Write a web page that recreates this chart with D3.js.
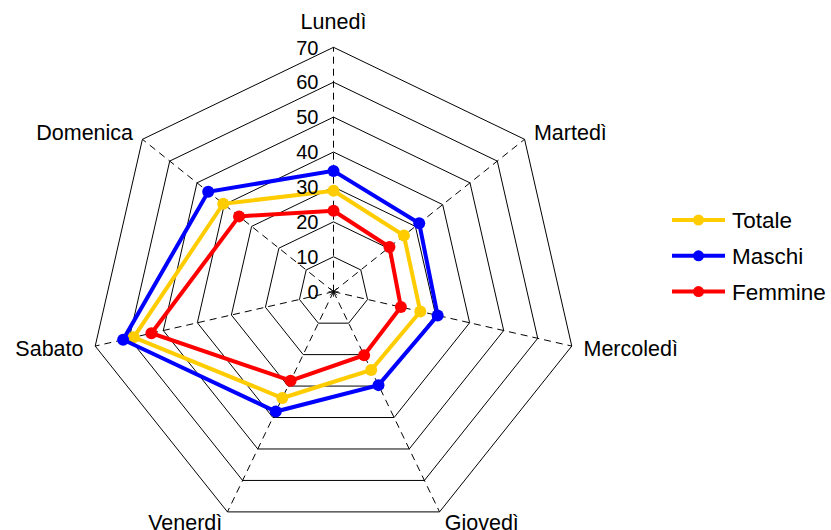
<!DOCTYPE html>
<html>
<head>
<meta charset="utf-8">
<script src="https://cdn.jsdelivr.net/npm/d3@7"></script>
<style>
  body { margin: 0; background: #fff; }
  text { font-family: "Liberation Sans", Arial, sans-serif; fill: #000; }
</style>
</head>
<body>
<script>
const days = ["Lunedì", "Martedì", "Mercoledì", "Giovedì", "Venerdì", "Sabato", "Domenica"];
const totale = [28.9, 25.8, 25.5, 24.9, 33.8, 58.7, 40.4];
const maschi = [34.6, 31.4, 30.6, 29.7, 38.1, 61.8, 45.9];
const femmine = [23.2, 20.5, 19.8, 20.2, 28.3, 53.5, 34.6];
const ticks = [0, 10, 20, 30, 40, 50, 60, 70];

const seriesNames = ["Totale", "Maschi", "Femmine"];
const seriesColors = ["#ffcc00", "#0000ff", "#ff0000"];
const seriesData = [totale, maschi, femmine];

const width = 831;
const height = 530;
const cx = 333.5;
const cy = 291.7;
const R = 244.4;

const svg = d3.select("body").append("svg")
  .attr("width", width)
  .attr("height", height);

const r = d3.scaleLinear().domain([0, 70]).range([0, R]);
// clockwise from top
const angle = d3.scalePoint().domain(d3.range(days.length)).range([0, 2 * Math.PI * (days.length - 1) / days.length]);

function pt(i, v) {
  const a = angle(i);
  return [cx + r(v) * Math.sin(a), cy - r(v) * Math.cos(a)];
}

const g = svg.append("g");

// rings
g.selectAll("path.ring")
  .data(ticks.filter(t => t > 0))
  .join("path")
  .attr("class", "ring")
  .attr("d", t => d3.line()(days.map((d, i) => pt(i, t))) + "Z")
  .attr("fill", "none")
  .attr("stroke", "#000")
  .attr("stroke-width", 1);

// spokes
g.selectAll("line.spoke")
  .data(days)
  .join("line")
  .attr("class", "spoke")
  .attr("x1", cx).attr("y1", cy)
  .attr("x2", (d, i) => pt(i, 70)[0])
  .attr("y2", (d, i) => pt(i, 70)[1])
  .attr("stroke", "#000")
  .attr("stroke-width", 1)
  .attr("stroke-dasharray", "7,5");

// centre star
[0, 45, 90, 135].forEach(a => {
  const dx = 5 * Math.cos(a * Math.PI / 180), dy = 5 * Math.sin(a * Math.PI / 180);
  g.append("line")
    .attr("x1", cx - dx).attr("y1", cy - dy)
    .attr("x2", cx + dx).attr("y2", cy + dy)
    .attr("stroke", "#000").attr("stroke-width", 0.8);
});

// series
seriesData.forEach((vals, k) => {
  const pts = vals.map((v, i) => pt(i, v));
  g.append("path")
    .attr("d", d3.line()(pts) + "Z")
    .attr("fill", "none")
    .attr("stroke", seriesColors[k])
    .attr("stroke-width", 4)
    .attr("stroke-linejoin", "miter");
  g.selectAll(null)
    .data(pts)
    .join("circle")
    .attr("cx", d => d[0])
    .attr("cy", d => d[1])
    .attr("r", 6)
    .attr("fill", seriesColors[k]);
});

// tick labels
g.selectAll("text.tick")
  .data(ticks)
  .join("text")
  .attr("class", "tick")
  .attr("x", cx - 15)
  .attr("y", t => cy - r(t))
  .attr("dy", "0.36em")
  .attr("text-anchor", "end")
  .attr("font-size", 20)
  .text(t => t);

// day labels
g.selectAll("text.day")
  .data(days)
  .join("text")
  .attr("class", "day")
  .each(function (d, i) {
    const a = angle(i);
    const s = Math.sin(a);
    const off = Math.abs(s) < 0.1 ? 26 : 12;
    const x = cx + (R + off) * s;
    const y = cy - (R + off) * Math.cos(a);
    d3.select(this)
      .attr("x", x)
      .attr("y", y)
      .attr("dy", "0.36em")
      .attr("text-anchor", Math.abs(s) < 0.1 ? "middle" : (s > 0 ? "start" : "end"));
  })
  .attr("font-size", 21.5)
  .text(d => d);

// legend
const legend = svg.append("g").attr("transform", "translate(672,220)");
const rows = legend.selectAll("g")
  .data(seriesNames)
  .join("g")
  .attr("transform", (d, i) => `translate(0,${i * 35.8})`);
rows.append("line")
  .attr("x1", 0).attr("x2", 53)
  .attr("stroke", (d, i) => seriesColors[i])
  .attr("stroke-width", 4);
rows.append("circle")
  .attr("cx", 26.5)
  .attr("r", 5.5)
  .attr("fill", (d, i) => seriesColors[i]);
rows.append("text")
  .attr("x", 60)
  .attr("dy", "0.36em")
  .attr("font-size", 22.5)
  .text(d => d);
</script>
</body>
</html>
